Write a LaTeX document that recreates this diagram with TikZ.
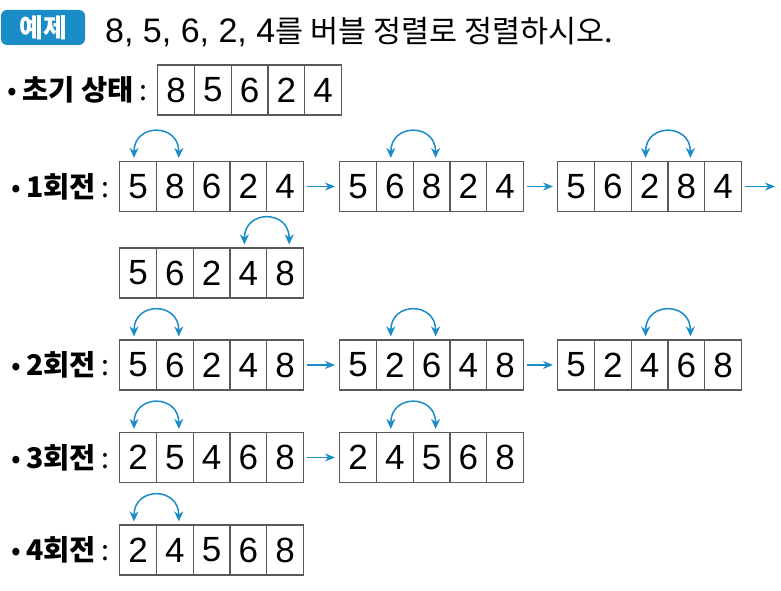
\documentclass[tikz,border=0pt]{standalone}
\usepackage{fontspec}
\setmainfont{Noto Sans CJK KR}
\newfontfamily\digitfont{Liberation Sans}
\usetikzlibrary{arrows.meta,calc,positioning}
\definecolor{swapblue}{HTML}{1A8CC8}

% one array of five cells: name, west point, digits
\newcommand{\numrow}[3]{%
  \foreach \d [count=\i] in {#3} {
    \node[cell, anchor=west] (#1-\i) at ($#2+(\i*36.8-36.8,0)$) {\d};
  }%
}
% swap arc over two cells
\newcommand{\xchg}[2]{%
  \draw[swaparc] ([xshift=-4pt,yshift=3pt]#1.north) to[out=90, in=90, looseness=2] ([xshift=4pt,yshift=3pt]#2.north);%
}
% row label
\newcommand{\rowlab}[1]{{\mdseries •}\hspace{5pt}#1\hspace{6pt}{\mdseries :}}

\begin{document}
\begin{tikzpicture}[
  x=1pt, y=1pt,
  cell/.style={draw=black!65, line width=1.2pt, minimum width=36.8pt, minimum height=50pt, inner sep=0pt, font=\digitfont\fontsize{35}{37}\selectfont},
  lab/.style={anchor=east, inner sep=0pt, font=\fontsize{28.5}{30}\selectfont\bfseries},
  badge/.style={fill=swapblue, rounded corners=6pt, minimum width=84pt, minimum height=35pt, inner sep=0pt, text=white, font=\fontsize{26}{28}\selectfont\bfseries},
  swaparc/.style={{Stealth[length=10pt,width=9pt]}-{Stealth[length=10pt,width=9pt]}, line width=1.5pt, draw=swapblue},
  step arrow/.style={-{Stealth[length=10pt,width=8pt]}, line width=1.5pt, draw=swapblue, shorten <=3pt, shorten >=4pt}
]
\useasboundingbox (0,0) rectangle (781,591);

% heading
\node[badge] (ex) at (43,563.5) {예제};
\node[anchor=base west, inner sep=0pt, font=\fontsize{30.5}{32}\selectfont] (title) at (105,548) {{\digitfont\fontsize{34}{36}\selectfont 8, 5, 6, 2, 4}를 버블 정렬로 정렬하시오.};

% labels
\node[lab] (l0) at (148,501) {\rowlab{초기 상태}};
\node[lab] (l1) at (110,404.5) {\rowlab{1회전}};
\node[lab] (l2) at (110,226) {\rowlab{2회전}};
\node[lab] (l3) at (110,133.5) {\rowlab{3회전}};
\node[lab] (l4) at (110,41) {\rowlab{4회전}};

% arrays
\numrow{s0}{(157,501)}{8,5,6,2,4}
\numrow{r1a}{(119,404.5)}{5,8,6,2,4}
\numrow{r1b}{(339,404.5)}{5,6,8,2,4}
\numrow{r1c}{(557,404.5)}{5,6,2,8,4}
\numrow{r1d}{(119,318)}{5,6,2,4,8}
\numrow{r2a}{(119,226)}{5,6,2,4,8}
\numrow{r2b}{(339,226)}{5,2,6,4,8}
\numrow{r2c}{(557,226)}{5,2,4,6,8}
\numrow{r3a}{(119,133.5)}{2,5,4,6,8}
\numrow{r3b}{(339,133.5)}{2,4,5,6,8}
\numrow{r4}{(119,41)}{2,4,5,6,8}

% swaps
\xchg{r1a-1}{r1a-2}
\xchg{r1b-2}{r1b-3}
\xchg{r1c-3}{r1c-4}
\xchg{r1d-4}{r1d-5}
\xchg{r2a-1}{r2a-2}
\xchg{r2b-2}{r2b-3}
\xchg{r2c-3}{r2c-4}
\xchg{r3a-1}{r3a-2}
\xchg{r3b-2}{r3b-3}
\xchg{r4-1}{r4-2}

% steps
\coordinate (r1end) at (779,404.5);
\draw[step arrow] (r1a-5.east) -- (r1b-1.west);
\draw[step arrow] (r1b-5.east) -- (r1c-1.west);
\draw[step arrow] (r1c-5.east) -- (r1end);
\draw[step arrow] (r2a-5.east) -- (r2b-1.west);
\draw[step arrow] (r2b-5.east) -- (r2c-1.west);
\draw[step arrow] (r3a-5.east) -- (r3b-1.west);

\end{tikzpicture}
\end{document}
